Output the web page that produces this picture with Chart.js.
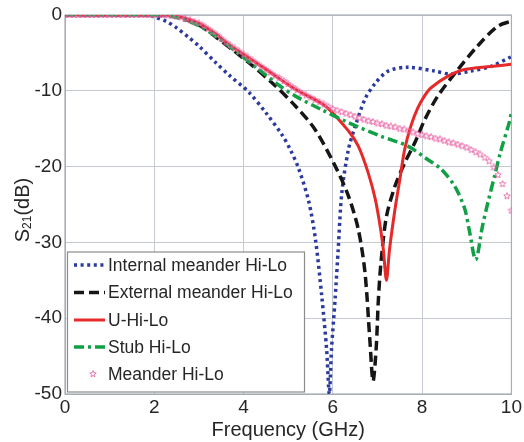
<!DOCTYPE html>
<html>
<head>
<meta charset="utf-8">
<script src="https://cdn.jsdelivr.net/npm/chart.js@4/dist/chart.umd.min.js"></script>
<style>
  html, body { margin: 0; padding: 0; background: #ffffff; }
  #wrap { width: 524px; height: 442px; }
</style>
</head>
<body>
<div id="wrap"><canvas id="c" width="524" height="442"></canvas></div>
<script>
// Tick values (GHz on x, dB on y)
const freqTicks = [0, 2, 4, 6, 8, 10];
const dbTicks = [0, -10, -20, -30, -40, -50];

// Internal meander Hi-Lo
const freqInternal = [0, 1.0, 1.5, 1.8, 2.0, 2.27, 2.5, 2.78, 3.0, 3.38, 3.67, 4.12, 4.5, 4.86, 5.05, 5.23, 5.46, 5.61, 5.75, 5.86, 5.92, 5.97, 6.05, 6.12, 6.2, 6.35, 6.5, 6.72, 6.95, 7.24, 7.68, 8.28, 8.64, 9.08, 9.53, 10.0];
const s21Internal = [0, 0, 0, -0.05, -0.25, -0.85, -1.7, -3.0, -4.1, -6.3, -7.9, -10.2, -12.9, -15.8, -17.8, -20.2, -24.6, -29.6, -37.0, -44.1, -50.0, -44.1, -37.5, -30.9, -23.5, -17.7, -14.7, -11.1, -9.0, -7.4, -6.9, -7.4, -7.8, -7.4, -6.8, -5.5];

// External meander Hi-Lo
const freqExternal = [0, 1.0, 2.0, 2.3, 2.6, 3.0, 3.4, 3.8, 4.12, 4.63, 5.16, 5.6, 6.05, 6.35, 6.57, 6.72, 6.83, 6.9, 6.97, 7.02, 7.08, 7.2, 7.39, 7.61, 7.84, 8.06, 8.35, 8.8, 9.24, 9.69, 10.0];
const s21External = [0, 0, 0, -0.1, -0.4, -1.3, -3.0, -4.8, -6.3, -8.9, -12.0, -15.1, -19.9, -23.9, -28.3, -34.0, -43.0, -48.3, -44.0, -37.5, -32.5, -26.6, -22.6, -19.5, -16.8, -13.8, -10.7, -7.2, -4.1, -1.5, -0.8];

// U-Hi-Lo
const freqU = [0, 1.0, 2.0, 2.3, 2.6, 3.0, 3.4, 3.67, 4.41, 5.16, 5.83, 6.35, 6.57, 6.79, 6.95, 7.06, 7.13, 7.2, 7.27, 7.39, 7.5, 7.61, 7.75, 7.9, 8.05, 8.2, 8.57, 8.95, 9.53, 10.0];
const s21U = [0, 0, 0, -0.05, -0.3, -1.1, -2.6, -3.9, -6.8, -9.8, -12.0, -15.3, -17.3, -20.8, -24.3, -27.9, -30.9, -35.0, -30.9, -25.7, -21.7, -17.7, -14.6, -12.3, -10.7, -9.6, -8.1, -7.2, -6.8, -6.5];

// Stub Hi-Lo
const freqStub = [0, 1.0, 2.0, 2.3, 2.6, 3.0, 3.4, 3.8, 4.41, 4.8, 5.16, 5.75, 6.35, 7.08, 7.68, 8.13, 8.42, 8.73, 8.95, 9.05, 9.2, 9.35, 9.47, 9.62, 9.75, 9.95, 10.0];
const s21Stub = [0, 0, 0, -0.1, -0.5, -1.4, -2.9, -4.7, -7.5, -9.3, -10.7, -12.5, -14.2, -16.0, -17.3, -19.1, -20.3, -22.6, -25.5, -28.2, -32.3, -27.9, -24.8, -21.3, -18.2, -14.2, -12.8];

// Meander Hi-Lo (sampled every 0.1 GHz)
const freqMeander = [0.0, 0.1, 0.2, 0.3, 0.4, 0.5, 0.6, 0.7, 0.8, 0.9,
  1.0, 1.1, 1.2, 1.3, 1.4, 1.5, 1.6, 1.7, 1.8, 1.9,
  2.0, 2.1, 2.2, 2.3, 2.4, 2.5, 2.6, 2.7, 2.8, 2.9,
  3.0, 3.1, 3.2, 3.3, 3.4, 3.5, 3.6, 3.7, 3.8, 3.9,
  4.0, 4.1, 4.2, 4.3, 4.4, 4.5, 4.6, 4.7, 4.8, 4.9,
  5.0, 5.1, 5.2, 5.3, 5.4, 5.5, 5.6, 5.7, 5.8, 5.9,
  6.0, 6.1, 6.2, 6.3, 6.4, 6.5, 6.6, 6.7, 6.8, 6.9,
  7.0, 7.1, 7.2, 7.3, 7.4, 7.5, 7.6, 7.7, 7.8, 7.9,
  8.0, 8.1, 8.2, 8.3, 8.4, 8.5, 8.6, 8.7, 8.8, 8.9,
  9.0, 9.1, 9.2, 9.3, 9.4, 9.5, 9.6, 9.7, 9.8, 9.9, 10.0];
const s21Meander = [0, 0, 0, 0, 0, 0, 0, 0, 0, 0,
  0, 0, 0, 0, 0, 0, 0, 0, 0, 0,
  0, 0, 0, -0.05, -0.1, -0.2, -0.3, -0.5, -0.7, -0.9,
  -1.1, -1.4, -1.8, -2.2, -2.6, -3.1, -3.6, -4.0, -4.4, -4.8,
  -5.2, -5.6, -6.0, -6.4, -6.8, -7.2, -7.6, -8.0, -8.3, -8.7,
  -9.1, -9.5, -9.9, -10.3, -10.6, -10.9, -11.2, -11.5, -11.8, -12.1,
  -12.4, -12.6, -12.8, -13.0, -13.2, -13.4, -13.6, -13.8, -14.0, -14.1,
  -14.3, -14.4, -14.6, -14.7, -14.8, -15.0, -15.1, -15.3, -15.5, -15.7,
  -15.8, -16.0, -16.1, -16.3, -16.4, -16.6, -16.8, -16.9, -17.1, -17.3,
  -17.5, -17.8, -18.1, -18.4, -18.8, -19.3, -20.1, -21.1, -22.3, -23.9, -25.8];

const seriesLabels = ['Internal meander Hi-Lo', 'External meander Hi-Lo', 'U-Hi-Lo', 'Stub Hi-Lo', 'Meander Hi-Lo'];

const FONT = "'Liberation Sans', Arial, sans-serif";
const TEXT = '#262626';
const BLUE = '#2b3a9e', BLACK = '#161616', RED = '#e62a2a', GREEN = '#12a046', PINK = '#ec64a6';

function pairs(xs, ys) { return xs.map((x, i) => ({ x: x, y: ys[i] })); }

// Small outlined pentagram used as the point marker
function makeStar(size, color) {
  const cv = document.createElement('canvas');
  cv.width = size; cv.height = size;
  const g = cv.getContext('2d');
  const cx = size / 2, cy = size / 2, ro = size / 2 - 0.6, ri = ro * 0.45;
  g.beginPath();
  for (let k = 0; k < 10; k++) {
    const r = k % 2 === 0 ? ro : ri;
    const a = -Math.PI / 2 + k * Math.PI / 5;
    const px = cx + r * Math.cos(a), py = cy + r * Math.sin(a);
    if (k === 0) g.moveTo(px, py); else g.lineTo(px, py);
  }
  g.closePath();
  g.strokeStyle = color; g.lineWidth = 0.9; g.stroke();
  return cv;
}
const starImg = makeStar(8, PINK);

const lineStyles = [
  { color: BLUE, width: 3.5, dash: [3, 3.6], cap: 'butt' },
  { color: BLACK, width: 3.5, dash: [10, 5], cap: 'butt' },
  { color: RED, width: 3, dash: [], cap: 'butt' },
  { color: GREEN, width: 3.5, dash: [10, 4, 3, 4], cap: 'butt' },
  null
];

// Axis title with subscript, and the boxed legend inside the plot
const decorations = {
  id: 'decorations',
  beforeDatasetsDraw(chart) {
    const a = chart.chartArea, ctx = chart.ctx;
    ctx.save();
    ctx.strokeStyle = '#a9adb5';
    ctx.lineWidth = 1.2;
    ctx.strokeRect(a.left, a.top, a.right - a.left, a.bottom - a.top);
    ctx.restore();
  },
  afterDatasetsDraw(chart) {
    const ctx = chart.ctx;
    // y axis title: S21(dB)
    ctx.save();
    ctx.translate(23, 210);
    ctx.rotate(-Math.PI / 2);
    ctx.fillStyle = TEXT;
    ctx.textBaseline = 'middle';
    ctx.font = '20px ' + FONT;
    const wS = ctx.measureText('S').width;
    ctx.font = '12px ' + FONT;
    const wSub = ctx.measureText('21').width;
    ctx.font = '20px ' + FONT;
    const wRest = ctx.measureText('(dB)').width;
    const x0 = -(wS + wSub + wRest) / 2;
    ctx.textAlign = 'left';
    ctx.fillText('S', x0, 0);
    ctx.font = '12px ' + FONT;
    ctx.fillText('21', x0 + wS, 5);
    ctx.font = '20px ' + FONT;
    ctx.fillText('(dB)', x0 + wS + wSub, 0);
    ctx.restore();

    // legend
    ctx.save();
    const bx = 67.5, by = 252, bw = 237, bh = 140;
    ctx.fillStyle = '#ffffff';
    ctx.fillRect(bx, by, bw, bh);
    ctx.strokeStyle = '#8c8c8c';
    ctx.lineWidth = 1.2;
    ctx.strokeRect(bx, by, bw, bh);
    const rows = [265, 292.5, 320, 347, 374];
    chart.data.datasets.forEach((ds, i) => {
      const y = rows[i];
      const st = lineStyles[i];
      if (st) {
        ctx.beginPath();
        ctx.strokeStyle = st.color;
        ctx.lineWidth = st.width;
        ctx.setLineDash(st.dash);
        ctx.lineCap = st.cap;
        ctx.moveTo(74, y);
        ctx.lineTo(105, y);
        ctx.stroke();
        ctx.setLineDash([]);
      } else {
        ctx.drawImage(starImg, 93 - starImg.width / 2, y - starImg.height / 2);
      }
      ctx.fillStyle = TEXT;
      ctx.font = '17.5px ' + FONT;
      ctx.textAlign = 'left';
      ctx.textBaseline = 'middle';
      ctx.fillText(ds.label, 108, y + 1);
    });
    ctx.restore();
  }
};

function lineDataset(i, xs, ys, order) {
  const st = lineStyles[i];
  return {
    label: seriesLabels[i],
    data: pairs(xs, ys),
    showLine: true,
    borderColor: st.color,
    backgroundColor: st.color,
    borderWidth: st.width,
    borderDash: st.dash,
    borderCapStyle: st.cap,
    pointRadius: 0,
    pointHoverRadius: 0,
    tension: 0.3,
    fill: false,
    order: order
  };
}

const datasets = [
  lineDataset(0, freqInternal, s21Internal, 5),
  lineDataset(1, freqExternal, s21External, 4),
  lineDataset(2, freqU, s21U, 3),
  lineDataset(3, freqStub, s21Stub, 2),
  {
    label: seriesLabels[4],
    data: pairs(freqMeander, s21Meander),
    showLine: false,
    pointStyle: starImg,
    pointRadius: 4,
    borderColor: PINK,
    backgroundColor: PINK,
    order: 1
  }
];

new Chart(document.getElementById('c'), {
  type: 'scatter',
  data: { datasets: datasets },
  options: {
    responsive: false,
    devicePixelRatio: 1,
    animation: false,
    clip: true,
    layout: { padding: { top: 15, right: 10, left: 0, bottom: 0 } },
    plugins: {
      legend: { display: false },
      tooltip: { enabled: false }
    },
    scales: {
      x: {
        type: 'linear',
        min: 0, max: 10,
        afterBuildTicks(scale) { scale.ticks = freqTicks.map(v => ({ value: v })); },
        afterFit(scale) { scale.height = 48; },
        ticks: { font: { family: FONT, size: 19 }, color: TEXT, padding: 2, maxRotation: 0 },
        grid: { color: '#c5c9d1', lineWidth: 1, drawTicks: false },
        border: { color: '#a9adb5', width: 1 },
        title: { display: true, text: 'Frequency (GHz)', font: { family: FONT, size: 20 }, color: TEXT, padding: { top: 0, bottom: 0 } }
      },
      y: {
        type: 'linear',
        min: -50, max: 0,
        afterBuildTicks(scale) { scale.ticks = dbTicks.map(v => ({ value: v })); },
        afterFit(scale) { scale.width = 65; },
        ticks: { font: { family: FONT, size: 19 }, color: TEXT, padding: 3 },
        grid: { color: '#c5c9d1', lineWidth: 1, drawTicks: false },
        border: { color: '#a9adb5', width: 1 }
      }
    }
  },
  plugins: [decorations]
});
</script>
</body>
</html>
